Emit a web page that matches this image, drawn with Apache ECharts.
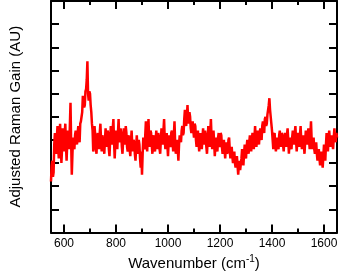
<!DOCTYPE html>
<html>
<head>
<meta charset="utf-8">
<script src="https://cdn.jsdelivr.net/npm/echarts@6/dist/echarts.min.js"></script>
<style>
html,body{margin:0;padding:0;background:#fff;}
#chart{width:341px;height:276px;}
</style>
</head>
<body>
<div id="chart"></div>
<script>
// Wavenumbers (cm^-1)
var wavenumbers = [
550,552.5,555,557.5,560,562.5,565,567.5,570,572.5,575,577.5,580,582.5,585,587.5,590,592.5,595,597.5,
600,602.5,605,607.5,610,612.5,615,617.5,620,622.5,625,627.5,630,632.5,635,637.5,640,642.5,645,647.5,
650,652.5,655,657.5,660,662.5,665,667.5,670,672.5,675,677.5,680,682.5,685,687.5,690,692.5,695,697.5,
700,702.5,705,707.5,710,712.5,715,717.5,720,722.5,725,727.5,730,732.5,735,737.5,740,742.5,745,747.5,
750,752.5,755,757.5,760,762.5,765,767.5,770,772.5,775,777.5,780,782.5,785,787.5,790,792.5,795,797.5,
800,802.5,805,807.5,810,812.5,815,817.5,820,822.5,825,827.5,830,832.5,835,837.5,840,842.5,845,847.5,
850,852.5,855,857.5,860,862.5,865,867.5,870,872.5,875,877.5,880,882.5,885,887.5,890,892.5,895,897.5,
900,902.5,905,907.5,910,912.5,915,917.5,920,922.5,925,927.5,930,932.5,935,937.5,940,942.5,945,947.5,
950,952.5,955,957.5,960,962.5,965,967.5,970,972.5,975,977.5,980,982.5,985,987.5,990,992.5,995,997.5,
1000,1002.5,1005,1007.5,1010,1012.5,1015,1017.5,1020,1022.5,1025,1027.5,1030,1032.5,1035,1037.5,1040,1042.5,1045,1047.5,
1050,1052.5,1055,1057.5,1060,1062.5,1065,1067.5,1070,1072.5,1075,1077.5,1080,1082.5,1085,1087.5,1090,1092.5,1095,1097.5,
1100,1102.5,1105,1107.5,1110,1112.5,1115,1117.5,1120,1122.5,1125,1127.5,1130,1132.5,1135,1137.5,1140,1142.5,1145,1147.5,
1150,1152.5,1155,1157.5,1160,1162.5,1165,1167.5,1170,1172.5,1175,1177.5,1180,1182.5,1185,1187.5,1190,1192.5,1195,1197.5,
1200,1202.5,1205,1207.5,1210,1212.5,1215,1217.5,1220,1222.5,1225,1227.5,1230,1232.5,1235,1237.5,1240,1242.5,1245,1247.5,
1250,1252.5,1255,1257.5,1260,1262.5,1265,1267.5,1270,1272.5,1275,1277.5,1280,1282.5,1285,1287.5,1290,1292.5,1295,1297.5,
1300,1302.5,1305,1307.5,1310,1312.5,1315,1317.5,1320,1322.5,1325,1327.5,1330,1332.5,1335,1337.5,1340,1342.5,1345,1347.5,
1350,1352.5,1355,1357.5,1360,1362.5,1365,1367.5,1370,1372.5,1375,1377.5,1380,1382.5,1385,1387.5,1390,1392.5,1395,1397.5,
1400,1402.5,1405,1407.5,1410,1412.5,1415,1417.5,1420,1422.5,1425,1427.5,1430,1432.5,1435,1437.5,1440,1442.5,1445,1447.5,
1450,1452.5,1455,1457.5,1460,1462.5,1465,1467.5,1470,1472.5,1475,1477.5,1480,1482.5,1485,1487.5,1490,1492.5,1495,1497.5,
1500,1502.5,1505,1507.5,1510,1512.5,1515,1517.5,1520,1522.5,1525,1527.5,1530,1532.5,1535,1537.5,1540,1542.5,1545,1547.5,
1550,1552.5,1555,1557.5,1560,1562.5,1565,1567.5,1570,1572.5,1575,1577.5,1580,1582.5,1585,1587.5,1590,1592.5,1595,1597.5,
1600,1602.5,1605,1607.5,1610,1612.5,1615,1617.5,1620,1622.5,1625,1627.5,1630,1632.5,1635,1637.5,1640,1642.5,1645,1647.5,1650
];
// Adjusted Raman gain (arbitrary units)
var gain = [
2.2,2.9,3.1,2.4,2.6,3.8,4.3,3.6,3.4,4.1,4.6,3.7,3.2,4.0,4.7,3.9,3.0,3.6,4.5,4.0,
3.5,4.2,4.7,3.8,3.1,3.9,4.4,4.0,3.6,4.6,5.6,3.9,2.5,3.4,4.1,3.7,3.6,4.2,4.4,3.9,
3.8,4.3,4.6,4.1,3.9,4.7,4.8,5.0,5.2,5.9,5.8,5.4,5.5,6.1,6.2,6.6,7.4,6.0,5.7,6.1,
6.0,5.5,5.2,4.7,4.4,3.5,3.7,4.6,4.2,3.7,3.4,4.1,4.3,3.8,3.6,4.3,4.7,4.0,3.5,4.2,
4.2,3.8,3.4,4.0,4.5,3.9,3.7,4.4,4.3,3.6,3.3,4.0,4.6,4.1,3.8,4.5,4.9,3.9,3.2,3.9,
4.4,3.9,3.6,4.3,4.9,4.0,3.9,4.5,4.3,3.7,3.4,4.0,4.5,4.1,3.8,4.6,4.3,3.7,3.5,4.2,
4.1,3.6,3.3,3.9,4.4,3.8,3.5,4.0,3.9,3.4,3.1,3.7,4.2,3.6,3.4,4.0,3.8,3.2,2.8,3.5,
2.5,3.4,4.1,3.7,3.6,4.2,4.8,3.9,3.5,4.3,4.9,4.0,3.7,4.4,4.3,3.8,3.4,4.0,4.2,3.7,
3.5,4.0,4.4,3.9,3.6,4.3,4.1,3.6,3.4,4.0,4.5,4.1,3.8,4.4,4.9,4.0,3.6,4.1,4.3,3.8,
3.3,3.9,4.2,3.8,3.7,4.3,4.4,3.9,3.5,4.2,4.8,3.9,3.4,3.8,4.0,3.6,3.1,3.8,4.2,4.0,
3.9,4.4,4.6,4.2,4.3,4.9,5.3,4.8,4.6,5.0,5.5,4.9,4.7,5.2,5.0,4.5,4.3,4.7,4.8,4.4,
4.1,4.7,4.6,4.0,3.7,4.2,4.4,3.9,3.5,4.0,4.3,3.8,3.6,4.1,4.5,4.0,3.8,4.4,4.2,3.7,
3.4,4.0,4.6,4.0,3.7,4.3,4.9,4.1,3.6,4.0,4.4,3.9,3.3,3.8,4.1,3.7,3.5,4.1,4.3,3.8,
3.7,4.3,4.2,3.7,3.4,3.9,4.0,3.6,3.2,3.7,3.9,3.4,3.5,4.0,4.1,3.6,3.2,3.6,3.7,3.3,
3.0,3.4,3.5,3.0,2.8,3.2,3.3,2.9,2.5,2.9,3.1,2.7,2.7,3.2,3.6,3.1,2.9,3.4,3.8,3.3,
3.2,3.7,4.0,3.6,3.4,3.9,4.2,3.8,3.5,4.0,4.3,3.9,3.6,4.1,4.6,4.0,3.7,4.2,4.4,3.9,
3.8,4.3,4.5,4.1,4.0,4.6,4.8,4.4,4.3,4.9,5.0,4.6,4.7,5.1,5.3,5.5,5.8,5.3,5.0,4.7,
4.4,4.0,3.6,4.2,4.3,3.8,3.5,4.0,4.1,3.7,3.6,4.2,4.4,3.9,3.7,4.3,4.2,3.8,3.5,4.0,
4.3,3.9,3.7,4.2,4.5,4.0,3.4,3.9,4.1,3.7,3.6,4.1,4.4,3.9,3.8,4.3,4.6,4.0,3.5,4.0,
4.3,3.9,3.7,4.2,4.6,4.0,3.6,4.1,4.2,3.8,3.4,3.9,4.4,4.0,3.8,4.3,4.5,4.0,3.6,4.2,
4.8,4.0,3.6,4.0,4.1,3.6,3.4,3.8,3.9,3.4,3.1,3.5,3.6,3.2,2.9,3.3,3.5,3.1,2.8,3.3,
3.8,3.4,3.1,3.8,4.3,3.9,3.5,4.0,4.4,4.0,3.7,4.1,4.2,3.8,3.6,4.1,4.5,4.1,3.9,4.3,4.1
];
var xMajorTicks = [600,800,1000,1200,1400,1600];
var xMinorTicks = [700,900,1100,1300,1500];
var xName = 'Wavenumber (cm{sup|-1})';
var yName = 'Adjusted Raman Gain (AU)';

var pairs = wavenumbers.map(function(w,i){return [w, gain[i]];});
var FONT = '"Liberation Sans", Arial, sans-serif';

function xAxisDef(pos, ticks, len, showLine, showLabel, withName){
  var a = {
    type:'value', position:pos, min:550, max:1650,
    axisLine:{show:showLine, onZero:false, lineStyle:{color:'#000', width:2}},
    axisTick:{show:true, inside:true, length:len, customValues:ticks, lineStyle:{color:'#000', width:2}},
    axisLabel:{show:showLabel, customValues:ticks, margin:5, color:'#000', fontSize:12, fontFamily:FONT,
      formatter:function(v){return String(v);}},
    splitLine:{show:false}
  };
  if (withName){
    a.name = xName; a.nameLocation='middle'; a.nameGap=22;
    a.nameTextStyle = {color:'#000', fontSize:15, fontFamily:FONT, verticalAlign:'top',
      rich:{sup:{fontSize:10, fontFamily:FONT, color:'#000', verticalAlign:'top', padding:[0,0,8,0]}}};
  }
  return a;
}
function yAxisDef(pos, withName){
  var a = {
    type:'value', position:pos, min:0, max:10, interval:1,
    axisLine:{show:true, onZero:false, lineStyle:{color:'#000', width:2}},
    axisTick:{show:true, inside:true, length:8, lineStyle:{color:'#000', width:2}},
    axisLabel:{show:false}, splitLine:{show:false}
  };
  if (withName){
    a.name = yName; a.nameLocation='middle'; a.nameGap=28;
    a.nameTextStyle = {color:'#000', fontSize:15, fontFamily:FONT};
  }
  return a;
}

var chart = echarts.init(document.getElementById('chart'), null, {renderer:'canvas'});
chart.setOption({
  animation:false,
  backgroundColor:'#fff',
  grid:{left:39, right:4, top:1, bottom:40, containLabel:false},
  xAxis:[
    xAxisDef('bottom', xMajorTicks, 8, true, true, true),
    xAxisDef('bottom', xMinorTicks, 4, false, false, false),
    xAxisDef('top', xMajorTicks, 8, true, false, false),
    xAxisDef('top', xMinorTicks, 4, false, false, false)
  ],
  yAxis:[ yAxisDef('left', true), yAxisDef('right', false) ],
  series:[{
    type:'line', xAxisIndex:0, yAxisIndex:0, data:pairs,
    showSymbol:false, symbol:'none',
    lineStyle:{color:'#ff0000', width:2.5}, itemStyle:{color:'#ff0000'}
  }]
});
</script>
</body>
</html>
